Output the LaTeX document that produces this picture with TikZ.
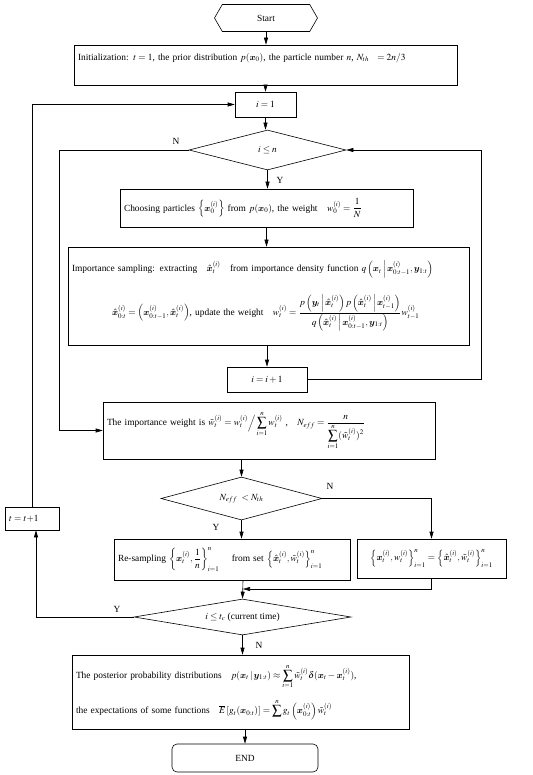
\documentclass[tikz,border=0pt]{standalone}
\usepackage{amsmath, amssymb, bm}
\usepackage{mathptmx}
\usepackage{fontspec}
\setmainfont{Liberation Serif}
\usetikzlibrary{arrows.meta, shapes, positioning}

\tikzset{
    box/.style={rectangle, draw=black, line width=0.6pt, inner xsep=4pt, inner ysep=2pt},
    decision/.style={diamond, draw=black, line width=0.6pt, inner sep=0pt, aspect=3},
    lbl/.style={inner sep=1pt}
}

\begin{document}
\begin{tikzpicture}[x=1pt, y=1pt, font=\fontsize{9.4}{11}\selectfont]
            \useasboundingbox (0,0) rectangle (532,-775);

            \begin{scope}[every node/.style={box}]
                \node[shape=signal, signal to=west and east, signal pointer angle=120,
                      minimum width=103, minimum height=27] (start) at (266,-18) {Start};
                \node[text width=375, align=left, minimum height=40] (init) at (265.5,-65)
                    {Initialization: $t=1$, the prior distribution $p(\bm{x}_0)$, the particle number $n$, $N_{th}\ \ =2n/3$\\[6pt]\mbox{}};
                \node[minimum width=61, minimum height=25] (i1) at (265.5,-104.5) {$i=1$};
                \node[text width=285, align=left, minimum height=38] (choose) at (266.5,-208)
                    {Choosing particles $\left\{\bm{x}_0^{(i)}\right\}$ from $p(\bm{x}_0)$, the weight \ \ $w_0^{(i)}=\dfrac{1}{N}$};
                \node[text width=393, align=left, minimum height=98] (imp) at (268.5,-296)
                    {Importance sampling: extracting \ \ $\hat{\bm{x}}_t^{(i)}$ \ \ from importance density function $q\left(\bm{x}_t\,\middle|\,\bm{x}_{0:t-1}^{(i)},\bm{y}_{1:t}\right)$\\[16pt]
                     \hspace*{40pt}$\hat{\bm{x}}_{0:t}^{(i)}=\left(\bm{x}_{0:t-1}^{(i)},\hat{\bm{x}}_t^{(i)}\right)$, update the weight \ \ $w_t^{(i)}=\dfrac{p\left(\bm{y}_t\,\middle|\,\hat{\bm{x}}_t^{(i)}\right)p\left(\hat{\bm{x}}_t^{(i)}\,\middle|\,\bm{x}_{t-1}^{(i)}\right)}{q\left(\hat{\bm{x}}_t^{(i)}\,\middle|\,\bm{x}_{0:t-1}^{(i)},\bm{y}_{1:t}\right)}w_{t-1}^{(i)}$};
                \node[minimum width=80, minimum height=25] (inc) at (267,-379.5) {$i=i+1$};
                \node[text width=324, align=left, minimum height=57] (wt) at (269,-430.5)
                    {The importance weight is $\tilde{w}_t^{(i)}=w_t^{(i)}\Big/\displaystyle\sum_{i=1}^{n}w_t^{(i)}$ , \ \ $N_{eff}=\dfrac{n}{\displaystyle\sum_{i=1}^{n}(\tilde{w}_t^{(i)})^2}$};
                \node[text width=228, align=left, minimum height=41] (resamp) at (232,-559.5)
                    {Re-sampling $\left\{\bm{x}_t^{(i)},\dfrac{1}{n}\right\}_{i=1}^{n}$ \ \ \ from set $\left\{\hat{\bm{x}}_t^{(i)},\tilde{w}_t^{(i)}\right\}_{i=1}^{n}$};
                \node[minimum width=149, minimum height=39] (keep) at (431.5,-558.5)
                    {$\left\{\bm{x}_t^{(i)},w_t^{(i)}\right\}_{i=1}^{n}=\left\{\hat{\bm{x}}_t^{(i)},\tilde{w}_t^{(i)}\right\}_{i=1}^{n}$};
                \node[text width=46, align=left, minimum height=23] (tinc) at (32,-518.5) {$t=t{+}1$};
                \node[text width=329, align=left, minimum height=74] (post) at (240.5,-692)
                    {The posterior probability distributions \ \ $p(\bm{x}_t\,|\,\bm{y}_{1:t})\approx\displaystyle\sum_{i=1}^{n}\tilde{w}_t^{(i)}\delta(\bm{x}_t-\bm{x}_t^{(i)})$,\\[10pt]
                     the expectations of some functions \ \ $\overline{E}\left[g_t(\bm{x}_{0:t})\right]=\displaystyle\sum^{n}g_t\left(\bm{x}_{0:t}^{(i)}\right)\tilde{w}_t^{(i)}$};
                \node[rounded corners=5pt, minimum width=146, minimum height=28] (stop) at (245,-758) {END};
            \end{scope}

            \begin{scope}[every node/.style={decision}]
                \node[minimum width=157, minimum height=40] (dn) at (267.5,-150) {$i\le n$};
                \node[minimum width=161, minimum height=43] (dth) at (241.5,-498.5) {$N_{eff}\ <N_{th}$};
                \node[minimum width=217, minimum height=36] (dtc) at (242.5,-617) {$i\le t_c$ (current time)};
            \end{scope}

            \coordinate (rloop) at (481,-150);
            \coordinate (lloop) at (59,-150);
            \coordinate (merge) at (243,-589);

            \begin{scope}[>={Triangle[length=7pt,width=4pt]},
                          every path/.style={draw=black, line width=0.6pt}]
                \draw[->] (start.south) -- (start.south |- init.north);
                \draw[->] (i1.north |- init.south) -- (i1.north);
                \draw[->] (i1.south) -- (i1.south |- dn.north);
                \draw[->] (dn.south) -- (dn.south |- choose.north);
                \draw[->] (choose.south) -- (choose.south |- imp.north);
                \draw[->] (inc.north |- imp.south) -- (inc.north);
                \draw[->] (inc.east) -| (rloop) -- (dn.east);
                \draw[->] (dn.west) -- (lloop) |- (wt.west);
                \draw[->] (dth.north |- wt.south) -- (dth.north);
                \draw[->] (dth.east) -| (keep.north);
                \draw[->] (dth.south) -- (dth.south |- resamp.north);
                \draw[->] (merge |- resamp.south) -- (dtc.north);
                \draw[->] (keep.south) |- (merge);
                \draw[->] (dtc.west) -| ([xshift=4]tinc.south);
                \draw[->] (tinc.north) |- (i1.west);
                \draw[->] (dtc.south) -- (dtc.south |- post.north);
                \draw[->] (stop.north |- post.south) -- (stop.north);
            \end{scope}

            \begin{scope}[every node/.style={lbl}]
                \node (nn) at (176,-141) {N};
                \node (yn) at (280,-180) {Y};
                \node (nth) at (330,-486) {N};
                \node (yth) at (216,-527) {Y};
                \node (ytc) at (117,-609) {Y};
                \node (ntc) at (259,-645) {N};
            \end{scope}

            \end{tikzpicture}
\end{document}
